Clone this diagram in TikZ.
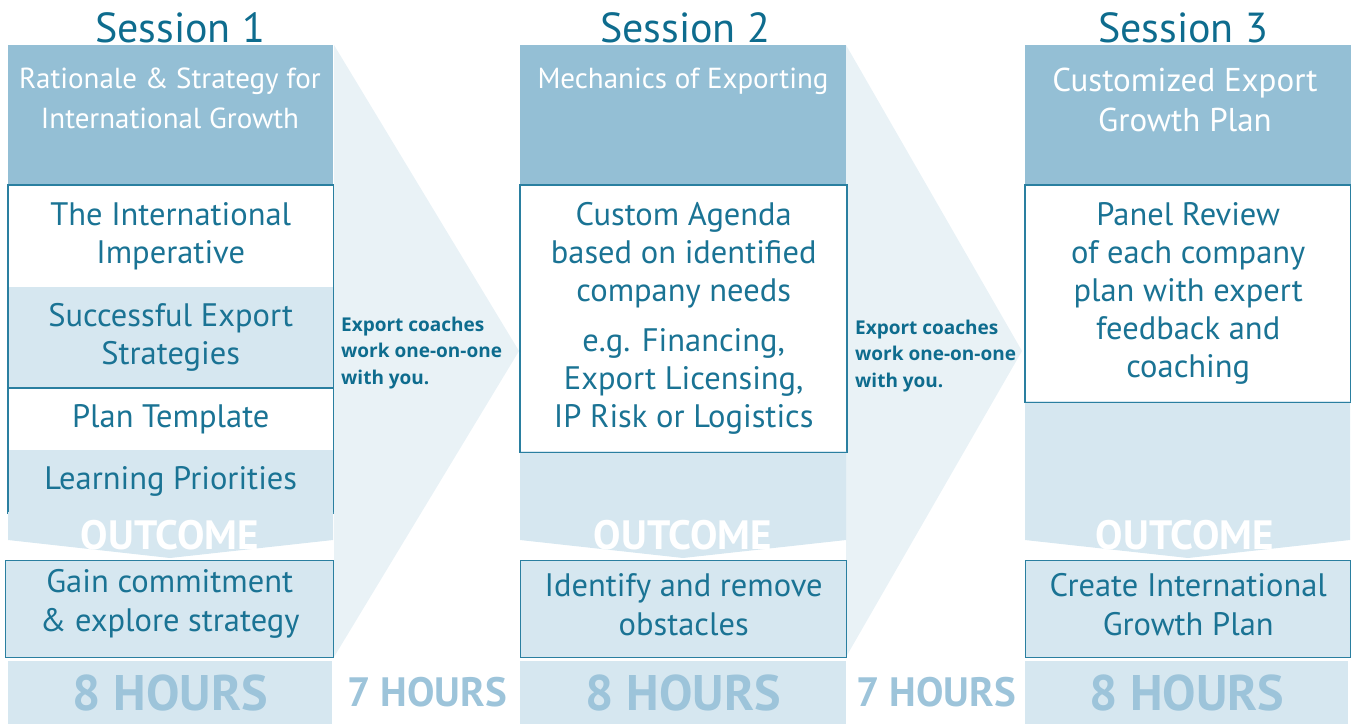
\documentclass[tikz,border=0pt]{standalone}
\usepackage{fontspec}
\setmainfont{PT Sans}
\newfontfamily\coachfont{Open Sans}
\usetikzlibrary{positioning}

\definecolor{headblue}{HTML}{94BFD5}
\definecolor{paleblue}{HTML}{D6E7F0}
\definecolor{edgeteal}{HTML}{2A7FA0}
\definecolor{textteal}{HTML}{1A7394}
\definecolor{titleteal}{HTML}{0E6C8E}
\definecolor{arrowgrey}{HTML}{E9F2F6}
\definecolor{hourblue}{HTML}{9DC4DA}

\begin{document}
\begin{tikzpicture}[x=1pt,y=-1pt,
    head/.style={fill=headblue,anchor=north west,minimum width=325,minimum height=140,inner sep=0},
    headtext/.style={text=white,align=center,anchor=north,font=\fontsize{29}{40}\selectfont},
    item/.style={anchor=north west,minimum width=325,inner sep=0,align=center,text=textteal,
                 font=\fontsize{32.5}{38}\selectfont},
    outline/.style={draw=edgeteal,line width=1.4pt},
    outbox/.style={anchor=north west,fill=paleblue,outline,inner sep=0,minimum height=97},
    outtext/.style={align=center,text=textteal,yshift=5pt,font=\fontsize{32.5}{39}\selectfont},
    hourbox/.style={anchor=north west,fill=paleblue,minimum height=63,inner sep=0,text=hourblue,
                 font=\bfseries\fontsize{50}{54}\selectfont},
    hourtext/.style={text=hourblue,font=\bfseries\fontsize{41}{44}\selectfont},
    outcome/.style={text=white,font=\bfseries\fontsize{41}{44}\selectfont},
    title/.style={text=titleteal,font=\fontsize{42}{46}\selectfont},
    coach/.style={anchor=west,align=left,text=titleteal,inner sep=0,
                 font=\coachfont\bfseries\fontsize{19}{26.5}\selectfont}]
  \useasboundingbox (0,0) rectangle (1351,724);

  % arrows between sessions
  \fill[arrowgrey] (334,45) -- (519,351) -- (334,657) -- cycle;
  \fill[arrowgrey] (846,45) -- (1022,351) -- (846,657) -- cycle;

  % session 1
  \node[title] (t1) at (180,28) {Session 1};
  \node[head] (h1) at (8,45) {};
  \node[headtext] (ht1) at (170,64) {Rationale \& Strategy for\\International Growth};
  \node[item,minimum height=102] (a1) at (8,185) {The International\\Imperative};
  \node[item,fill=paleblue,minimum height=101] (a2) at (8,287) {Successful Export\\Strategies};
  \node[item,minimum height=62] (a3) at (8,388) {Plan Template};
  \node[item,fill=paleblue,minimum height=63] (a4) at (8,450) {Learning Priorities};
  \draw[outline] (a1.north west) rectangle (a4.south east);
  \draw[outline] (a3.north west) -- (a3.north east);
  \fill[paleblue] (8,512) -- (333,512) -- (333,540) -- (170,558) -- (8,540) -- cycle;
  \node[outcome] (o1) at (170,535) {OUTCOME};
  \node[outbox,minimum width=328] (r1) at (5,560) {};
  \node[outtext] (rt1) at (r1.center) {Gain commitment\\\& explore strategy};
  \node[hourbox,minimum width=324] (s1) at (8,661) {8 HOURS};

  \node[coach] (c1) at (341,353) {Export coaches\\work one-on-one\\with you.};
  \node[hourtext] (w1) at (427,692) {7 HOURS};

  % session 2
  \node[title] (t2) at (685,28) {Session 2};
  \node[head,minimum width=326] (h2) at (520,45) {};
  \node[headtext] (ht2) at (683,64) {Mechanics of Exporting};
  \node[item,minimum width=326,minimum height=266,outline] (b1) at (520,185)
      {Custom Agenda\\based on identified\\company needs\\[12pt]e.g. Financing,\\Export Licensing,\\IP Risk or Logistics};
  \fill[paleblue] (520,451) -- (846,451) -- (846,540) -- (683,558) -- (520,540) -- cycle;
  \draw[outline] (b1.north west) rectangle (b1.south east);
  \node[outcome] (o2) at (683,535) {OUTCOME};
  \node[outbox,minimum width=326] (r2) at (520,560) {};
  \node[outtext] (rt2) at (r2.center) {Identify and remove\\obstacles};
  \node[hourbox,minimum width=326] (s2) at (520,661) {8 HOURS};

  \node[coach] (c2) at (855,356) {Export coaches\\work one-on-one\\with you.};
  \node[hourtext] (w2) at (936,692) {7 HOURS};

  % session 3
  \node[title] (t3) at (1183,28) {Session 3};
  \node[head,minimum width=326] (h3) at (1025,45) {};
  \node[headtext,font=\fontsize{33}{40}\selectfont] (ht3) at (1185,64) {Customized Export\\Growth Plan};
  \node[item,minimum width=325,minimum height=216,outline] (p1) at (1025,185)
      {Panel Review\\of each company\\plan with expert\\feedback and\\coaching};
  \fill[paleblue] (1025,401) -- (1350,401) -- (1350,540) -- (1188,558) -- (1025,540) -- cycle;
  \draw[outline] (p1.north west) rectangle (p1.south east);
  \node[outcome] (o3) at (1185,535) {OUTCOME};
  \node[outbox,minimum width=325] (r3) at (1025,560) {};
  \node[outtext] (rt3) at (r3.center) {Create International\\Growth Plan};
  \node[hourbox,minimum width=323] (s3) at (1025,661) {8 HOURS};
\end{tikzpicture}
\end{document}
